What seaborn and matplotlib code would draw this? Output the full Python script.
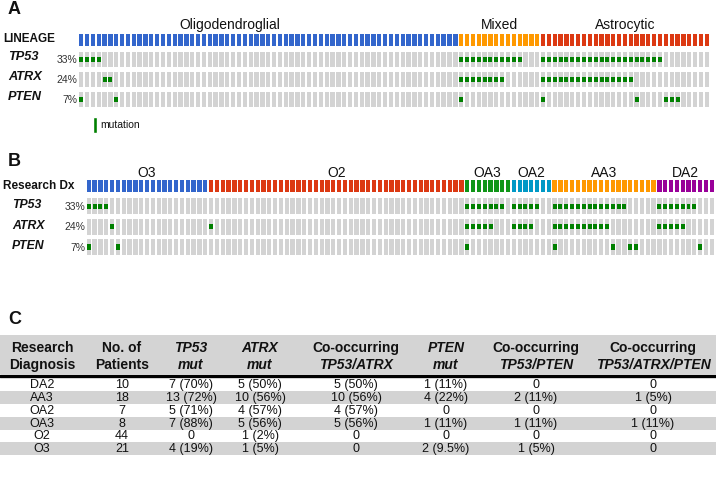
import numpy as np
import matplotlib
matplotlib.use("Agg")
import matplotlib.pyplot as plt
import matplotlib.transforms as mtransforms
from matplotlib import font_manager
import seaborn as sns

# ---- panel A data: lineage groups and sorted mutation columns ----
lineage_names = ["Oligodendroglial", "Mixed", "Astrocytic"]
lineage_sizes = [65, 14, 29]
lineage_colors = ["#3366cc", "#ff9900", "#dc3912"]

genes = ["TP53", "ATRX", "PTEN"]
gene_pct = ["33%", "24%", "7%"]

tp53_a = [0, 1, 2, 3,
          65, 66, 67, 68, 69, 70, 71, 72, 73, 74, 75,
          79, 80, 81, 82, 83, 84, 85, 86, 87, 88, 89, 90, 91, 92, 93, 94, 95, 96, 97, 98, 99]
atrx_a = [4, 5,
          65, 66, 67, 68, 69, 70, 71, 72,
          79, 80, 81, 82, 83, 84, 85, 86, 87, 88, 89, 90, 91, 92, 93, 94]
pten_a = [0, 6, 65, 79, 95, 100, 101, 102]

# ---- panel B data: research diagnosis groups ----
dx_names = ["O3", "O2", "OA3", "OA2", "AA3", "DA2"]
dx_sizes = [21, 44, 8, 7, 18, 10]
dx_colors = ["#3366cc", "#dc3912", "#109618", "#0099c6", "#ff9900", "#990099"]

tp53_b = [0, 1, 2, 3,
          65, 66, 67, 68, 69, 70, 71,
          73, 74, 75, 76, 77,
          80, 81, 82, 83, 84, 85, 86, 87, 88, 89, 90, 91, 92,
          98, 99, 100, 101, 102, 103, 104]
atrx_b = [4, 21,
          65, 66, 67, 68, 69,
          73, 74, 75, 76,
          80, 81, 82, 83, 84, 85, 86, 87, 88, 89,
          98, 99, 100, 101, 102]
pten_b = [0, 5, 65, 80, 90, 93, 94, 105]

# ---- panel C table ----
table_header = [("Research", "Diagnosis"), ("No. of", "Patients"), ("TP53", "mut"),
                ("ATRX", "mut"), ("Co-occurring", "TP53/ATRX"), ("PTEN", "mut"),
                ("Co-occurring", "TP53/PTEN"), ("Co-occurring", "TP53/ATRX/PTEN")]
header_italic = [(False, False), (False, False), (True, True), (True, True),
                 (False, True), (True, True), (False, True), (False, True)]
table_dx = ["DA2", "AA3", "OA2", "OA3", "O2", "O3"]
table_n = ["10", "18", "7", "8", "44", "21"]
table_tp53 = ["7 (70%)", "13 (72%)", "5 (71%)", "7 (88%)", "0", "4 (19%)"]
table_atrx = ["5 (50%)", "10 (56%)", "4 (57%)", "5 (56%)", "1 (2%)", "1 (5%)"]
table_tp53_atrx = ["5 (50%)", "10 (56%)", "4 (57%)", "5 (56%)", "0", "0"]
table_pten = ["1 (11%)", "4 (22%)", "0", "1 (11%)", "0", "2 (9.5%)"]
table_tp53_pten = ["0", "2 (11%)", "0", "1 (11%)", "0", "1 (5%)"]
table_all3 = ["0", "1 (5%)", "0", "1 (11%)", "0", "0"]

sns.set_theme(style="white")
plt.rcParams["font.family"] = ["Liberation Sans", "DejaVu Sans"]

# the table body uses a narrow face when one is installed
try:
    font_manager.findfont("Liberation Sans Narrow", fallback_to_default=False)
    data_family, data_size = ["Liberation Sans Narrow", "Liberation Sans"], 10.5
except ValueError:
    data_family, data_size = ["Liberation Sans", "DejaVu Sans"], 9

W, H = 716, 484
fig = plt.figure(figsize=(W / 100, H / 100), dpi=100)
TXT = "#111111"
GRAY = "#d3d3d3"
MUT = "#008000"


def fx(x):
    return x / W


def fy(y):
    return 1 - y / H


def oncoprint(rect, sizes, colors, muts, head_h):
    ax = fig.add_axes(rect)
    n = sum(sizes)
    cols = np.arange(n) + 0.5
    ax.bar(cols, head_h, bottom=-head_h / 2, width=0.74,
           color=np.repeat(colors, sizes), linewidth=0)
    for r, m in enumerate(muts, start=1):
        ax.bar(cols, 0.78, bottom=r - 0.39, width=0.74, color=GRAY, linewidth=0)
        ax.bar(np.array(m) + 0.5, 0.27, bottom=r - 0.135, width=0.68,
               color=MUT, linewidth=0)
    ax.set_xlim(0, n)
    ax.set_ylim(3.5, -0.5)
    ax.axis("off")
    return ax


# panel A
axA = oncoprint([fx(78.2), fy(109.5), 631.5 / W, 80 / H],
                lineage_sizes, lineage_colors, [tp53_a, atrx_a, pten_a], 0.6)
trA = mtransforms.blended_transform_factory(fig.transFigure, axA.transData)
starts = np.cumsum([0] + lineage_sizes[:-1])
label_shift = [-6.5, 0, 0]
for name, s, n, sh in zip(lineage_names, starts, lineage_sizes, label_shift):
    axA.text(s + n / 2 + sh, -0.73, name, ha="center", va="center",
             fontsize=10, color=TXT)
axA.text(fx(3), 0, "LINEAGE", transform=trA, ha="left", va="center",
         fontsize=8.5, fontweight="bold", color=TXT)
for r, (g, p) in enumerate(zip(genes, gene_pct), start=1):
    axA.text(fx(8), r - 0.1, g, transform=trA, ha="left", va="center",
             fontsize=9.2, fontweight="bold", fontstyle="italic", color=TXT)
    axA.text(fx(77.5), r + 0.03, p, transform=trA, ha="right", va="center",
             fontsize=7.5, color="#333333")
axA.bar([2.85], [0.8], bottom=3.87, width=0.7, color=MUT, clip_on=False)
axA.text(3.75, 4.27, "mutation", ha="left", va="center", fontsize=7.5, color=TXT)

# panel B
axB = oncoprint([fx(85.9), fy(257.05), 628.8 / W, 81.2 / H],
                dx_sizes, dx_colors, [tp53_b, atrx_b, pten_b], 0.59)
trB = mtransforms.blended_transform_factory(fig.transFigure, axB.transData)
starts = np.cumsum([0] + dx_sizes[:-1])
for name, s, n in zip(dx_names, starts, dx_sizes):
    axB.text(s + n / 2, -0.64, name, ha="center", va="center",
             fontsize=10, color=TXT)
axB.text(fx(3), 0, "Research Dx", transform=trB, ha="left", va="center",
         fontsize=8.5, fontweight="bold", color=TXT)
for r, (g, p) in enumerate(zip(genes, gene_pct), start=1):
    axB.text(fx(12), r - 0.05, g, transform=trB, ha="left", va="center",
             fontsize=8.8, fontweight="bold", fontstyle="italic", color=TXT)
    axB.text(fx(85.5), r + 0.03, p, transform=trB, ha="right", va="center",
             fontsize=7.5, color="#333333")

# panel letters
for letter, y in [("A", 9), ("B", 161), ("C", 320)]:
    fig.text(fx(8), fy(y), letter, ha="left", va="center", fontsize=13,
             fontweight="bold", color=TXT)

# panel C table
axC = fig.add_axes([0, fy(457), 1, (457 - 334) / H])
axC.set_xlim(0, W)
axC.set_ylim(457, 334)
axC.axis("off")
col_x = [42, 122, 191, 260, 356, 446, 536, 653]
axC.axhspan(334.5, 374, color="#d4d4d4", lw=0)
axC.axhline(376, color="black", lw=2.4)
for c, (hd, it) in enumerate(zip(table_header, header_italic)):
    axC.text(col_x[c], 348, hd[0], ha="center", va="center", fontsize=10,
             fontweight="bold", fontstyle="italic" if it[0] else "normal", color=TXT)
    axC.text(col_x[c], 365, hd[1], ha="center", va="center", fontsize=10,
             fontweight="bold", fontstyle="italic" if it[1] else "normal", color=TXT)
columns = [table_dx, table_n, table_tp53, table_atrx, table_tp53_atrx,
           table_pten, table_tp53_pten, table_all3]
row_top, row_h = 378.5, 12.75
for i in range(len(table_dx)):
    y0 = row_top + i * row_h
    if i % 2 == 1:
        axC.axhspan(y0, y0 + row_h, color="#d3d3d3", lw=0)
    for c, col in enumerate(columns):
        axC.text(col_x[c], y0 + row_h / 2 + 0.5, col[i], ha="center", va="center",
                 fontsize=data_size, family=data_family, color=TXT)

fig.savefig("out.png", dpi=100)
